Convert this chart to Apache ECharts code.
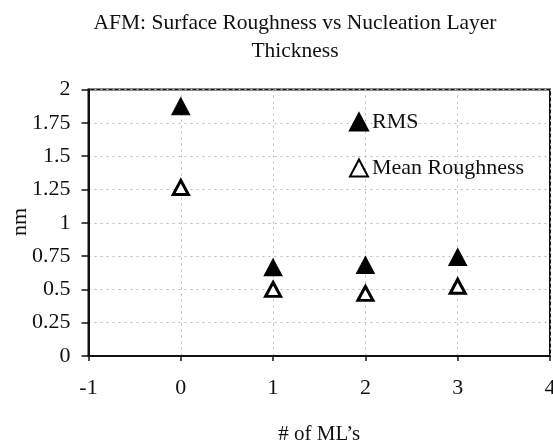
<!DOCTYPE html>
<html><head><meta charset="utf-8">
<script src="https://cdn.jsdelivr.net/npm/echarts@6/dist/echarts.min.js"></script>
<style>html,body{margin:0;padding:0;background:#fff}#c{width:553px;height:442px}</style>
</head><body><div id="c"></div>
<script>
const xValues = [0, 1, 2, 3];
const rmsValues = [1.875, 0.665, 0.683, 0.743];
const meanValues = [1.265, 0.5, 0.47, 0.523];
const seriesNames = ['RMS', 'Mean Roughness'];
const titleText = 'AFM: Surface Roughness vs Nucleation Layer\nThickness';
const xName = '# of ML\u2019s';
const yName = 'nm';

const font = 'Liberation Serif';
const chart = echarts.init(document.getElementById('c'));
chart.setOption({
  animation: false,
  backgroundColor: '#fff',
  title: {
    text: titleText, left: 290, top: 4, textAlign: 'center',
    textStyle: {fontFamily: font, fontSize: 21.5, fontWeight: 'normal', color: '#111', lineHeight: 28}
  },
  graphic: [{
    type: 'text', x: 20, y: 222, rotation: Math.PI / 2,
    style: {text: yName, fontFamily: font, fontSize: 22, fill: '#111', align: 'center', verticalAlign: 'middle'}
  }],
  legend: {
    orient: 'vertical', left: 344, top: 106, itemGap: 24,
    itemWidth: 18, itemHeight: 17,
    textStyle: {fontFamily: font, fontSize: 22, color: '#111', padding: [0,0,0,-1]},
    data: [{name: seriesNames[0], icon: 'triangle'}, {name: seriesNames[1], icon: 'triangle'}]
  },
  grid: {left: 88.5, right: 3, top: 89.5, bottom: 86, containLabel: false, outerBoundsMode: 'none',
    show: true, borderColor: '#111', borderWidth: 2, backgroundColor: 'transparent'},
  xAxis: {
    type: 'value', min: -1, max: 4, interval: 1,
    name: xName, nameLocation: 'middle', nameGap: 68,
    nameTextStyle: {fontFamily: font, fontSize: 21, color: '#111'},
    axisLine: {show: true, onZero: false, lineStyle: {color: '#111', width: 2}},
    axisTick: {show: true, length: 5, lineStyle: {color: '#111', width: 1.5}},
    axisLabel: {fontFamily: font, fontSize: 22, color: '#111', margin: 21},
    splitLine: {show: true, lineStyle: {color: '#bbb', type: [2, 4], width: 1}}
  },
  yAxis: {
    type: 'value', min: 0, max: 2, interval: 0.25,
    axisLine: {show: true, onZero: false, lineStyle: {color: '#111', width: 2}},
    axisTick: {show: true, length: 7, lineStyle: {color: '#111', width: 1.5}},
    axisLabel: {fontFamily: font, fontSize: 22, color: '#111', margin: 18},
    splitLine: {show: true, lineStyle: {color: '#bbb', type: [2, 4], width: 1}}
  },
  series: [
    {
      name: seriesNames[0], type: 'scatter', symbol: 'triangle', symbolSize: [18, 17],
      itemStyle: {color: '#000', borderColor: '#000', borderWidth: 1, opacity: 1},
      data: xValues.map((x, i) => [x, rmsValues[i]])
    },
    {
      name: seriesNames[1], type: 'scatter', symbol: 'triangle', symbolSize: [15, 14],
      itemStyle: {color: '#fff', borderColor: '#000', borderWidth: 3, opacity: 1},
      data: xValues.map((x, i) => [x, meanValues[i]])
    }
  ]
});
</script></body></html>
